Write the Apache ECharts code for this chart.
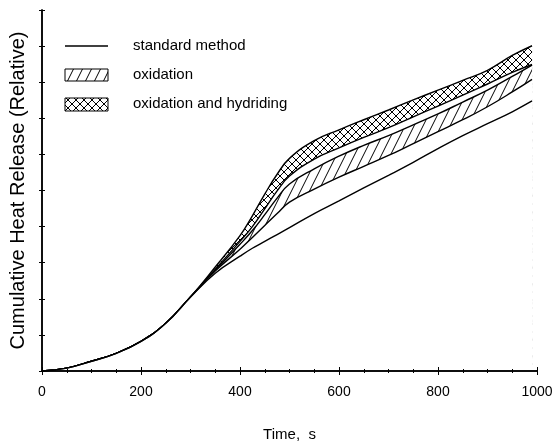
<!DOCTYPE html>
<html>
<head>
<meta charset="utf-8">
<script src="https://cdn.jsdelivr.net/npm/echarts@6/dist/echarts.min.js"></script>
<style>
  html, body { margin: 0; padding: 0; background: #fff; }
  #chart { width: 558px; height: 447px; }
</style>
</head>
<body>
<div id="chart"></div>
<script>
// time in s, heat release on a relative 0-100 scale
const times = [0, 50, 100, 150, 200, 250, 300, 350, 400, 425, 450, 475, 500, 550, 600, 650, 700, 750, 800, 850, 900, 950, 990];
const standardMethod = [0, 0.8, 2.7, 4.9, 8.2, 13.2, 20.5, 27.1, 31.8, 34.0, 35.9, 37.8, 39.7, 43.6, 47.1, 50.7, 54.2, 57.8, 61.6, 65.2, 68.5, 71.8, 74.8];
const oxidationLow = [0, 0.8, 2.7, 4.9, 8.2, 13.2, 20.5, 27.7, 33.7, 37.0, 40.3, 43.6, 46.8, 50.4, 53.7, 56.7, 59.7, 63.0, 66.3, 69.6, 73.2, 77.3, 80.8];
const oxidationHigh = [0, 0.8, 2.7, 4.9, 8.2, 13.2, 20.5, 27.9, 35.1, 38.9, 43.3, 47.9, 51.8, 56.0, 59.5, 62.5, 65.2, 68.2, 71.2, 74.5, 77.8, 81.6, 84.7];
const hydridingLow = [0, 0.8, 2.7, 4.9, 8.2, 13.2, 20.5, 28.2, 35.9, 40.0, 44.9, 49.9, 54.0, 58.7, 61.8, 64.7, 67.4, 70.4, 73.4, 76.4, 79.5, 82.7, 84.9];
const hydridingHigh = [0, 0.8, 2.7, 4.9, 8.2, 13.2, 20.5, 28.8, 37.5, 43.0, 49.0, 54.5, 58.9, 63.8, 66.8, 69.6, 72.3, 75.1, 77.8, 80.5, 83.3, 87.4, 90.1];
const xTicks = [0, 200, 400, 600, 800, 1000];

const FONT = '"Liberation Sans", Arial, sans-serif';

function hatchTile() {
  const c = document.createElement("canvas");
  c.width = 9; c.height = 18;
  const g = c.getContext("2d");
  g.strokeStyle = "#000";
  g.lineWidth = 1;
  g.beginPath();
  for (const dx of [-9, 0, 9]) { g.moveTo(dx, 18); g.lineTo(dx + 9, 0); }
  g.stroke();
  return c;
}

function crossTile() {
  const c = document.createElement("canvas");
  c.width = 8; c.height = 8;
  const g = c.getContext("2d");
  g.strokeStyle = "#000";
  g.lineWidth = 1;
  g.beginPath();
  for (const dx of [-8, 0, 8]) {
    g.moveTo(dx, 0); g.lineTo(dx + 8, 8);
    g.moveTo(dx, 8); g.lineTo(dx + 8, 0);
  }
  g.stroke();
  return c;
}

const hatch = { image: hatchTile(), repeat: "repeat" };
const cross = { image: crossTile(), repeat: "repeat" };

const pairs = (ys) => times.map((t, i) => [t, ys[i]]);

const lineStyle = { color: "#000", width: 1.4 };
const base = { type: "line", smooth: 0.45, symbol: "none", silent: true, lineStyle };

// bands: fill each upper edge down to the axis, then cover below the lower edge with white
const series = [
  { ...base, name: "oxidation and hydriding", z: 2, data: pairs(hydridingHigh), areaStyle: { color: cross, opacity: 1 } },
  { ...base, name: "hydriding low", z: 3, data: pairs(hydridingLow), areaStyle: { color: "#fff", opacity: 1 } },
  { ...base, name: "oxidation", z: 4, data: pairs(oxidationHigh), areaStyle: { color: hatch, opacity: 1 } },
  { ...base, name: "oxidation low", z: 5, data: pairs(oxidationLow), areaStyle: { color: "#fff", opacity: 1 } },
  { ...base, name: "standard method", z: 6, data: pairs(standardMethod) },
];

const chart = echarts.init(document.getElementById("chart"));
chart.setOption({
  animation: false,
  backgroundColor: "#fff",
  grid: { left: 41, right: 21, top: 10, bottom: 72 },
  xAxis: [
    {
      type: "value", min: 0, max: 1000, interval: 200, z: 10,
      name: "Time,  s", nameLocation: "middle", nameGap: 56,
      nameTextStyle: { color: "#000", fontFamily: FONT, fontSize: 15 },
      axisLine: { lineStyle: { color: "#000", width: 1.5 } },
      axisTick: { inside: true, length: 4, lineStyle: { color: "#000" } },
      minorTick: { show: true, splitNumber: 4, length: 2, lineStyle: { color: "#000" } },
      axisLabel: {
        color: "#000", fontFamily: FONT, fontSize: 14, margin: 14,
        formatter: (v) => (xTicks.includes(v) ? String(v) : ""),
      },
      splitLine: { show: false },
    },
    {
      type: "value", min: 0, max: 1000, interval: 200, position: "top", z: 10,
      axisLine: { show: true, lineStyle: { color: "#000", width: 1.5 } },
      axisTick: { inside: true, length: 4, lineStyle: { color: "#000" } },
      minorTick: { show: true, splitNumber: 4, length: 2, lineStyle: { color: "#000" } },
      axisLabel: { show: false },
      splitLine: { show: false },
    },
  ],
  yAxis: [
    {
      type: "value", min: 0, max: 100, interval: 10, z: 10,
      name: "Cumulative Heat Release (Relative)", nameLocation: "middle", nameGap: 14,
      nameTextStyle: { color: "#000", fontFamily: FONT, fontSize: 20 },
      axisLine: { show: true, lineStyle: { color: "#000", width: 1.5 } },
      axisTick: { inside: true, length: 3, lineStyle: { color: "#000" } },
      axisLabel: { show: false },
      splitLine: { show: false },
    },
    {
      type: "value", min: 0, max: 100, interval: 10, position: "right", z: 10,
      axisLine: { show: true, lineStyle: { color: "#000", width: 1.5 } },
      axisTick: { inside: true, length: 3, lineStyle: { color: "#000" } },
      axisLabel: { show: false },
      splitLine: { show: false },
    },
  ],
  graphic: [
    { type: "line", shape: { x1: 65, y1: 46, x2: 108, y2: 46 }, style: { stroke: "#000", lineWidth: 1.3 } },
    { type: "rect", shape: { x: 65, y: 69, width: 43, height: 12 }, style: { fill: hatch, stroke: "#000", lineWidth: 1 } },
    { type: "rect", shape: { x: 65, y: 98, width: 43, height: 13 }, style: { fill: cross, stroke: "#000", lineWidth: 1 } },
    { type: "text", style: { x: 133, y: 46, text: "standard method", font: "15px " + FONT, fill: "#000", verticalAlign: "middle" } },
    { type: "text", style: { x: 133, y: 75, text: "oxidation", font: "15px " + FONT, fill: "#000", verticalAlign: "middle" } },
    { type: "text", style: { x: 133, y: 104, text: "oxidation and hydriding", font: "15px " + FONT, fill: "#000", verticalAlign: "middle" } },
  ],
  series,
});
</script>
</body>
</html>
